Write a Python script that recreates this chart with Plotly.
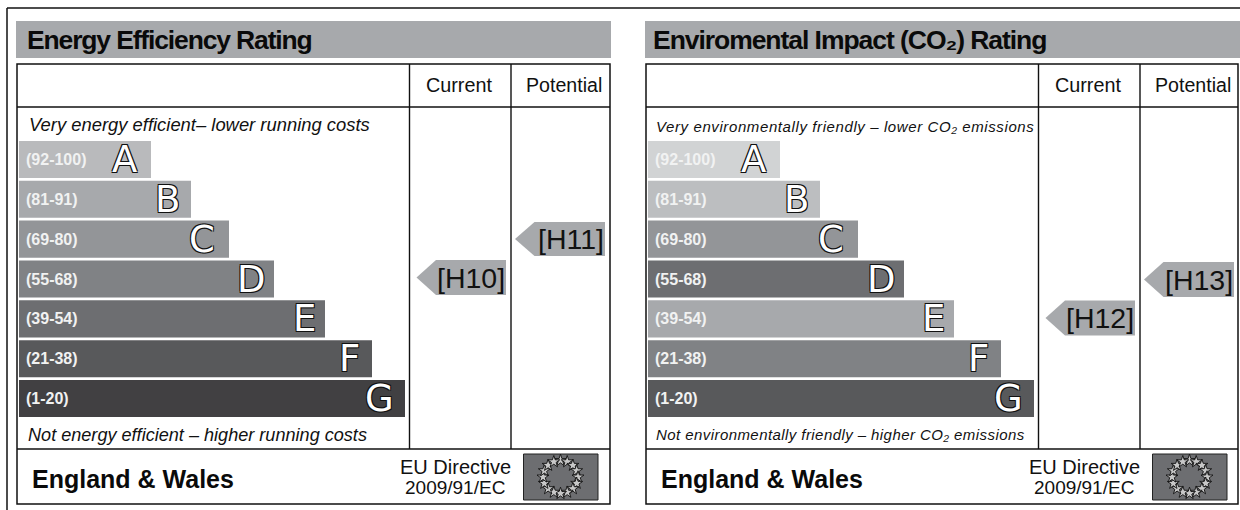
import json
import math
import plotly.graph_objects as go

# ---- data ----
bands = ["A", "B", "C", "D", "E", "F", "G"]
ranges = ["(92-100)", "(81-91)", "(69-80)", "(55-68)", "(39-54)", "(21-38)", "(1-20)"]
energy_lengths = [132, 172, 210, 255, 306, 353, 386]
co2_lengths = [132, 172, 210, 256, 306, 353, 386]
energy_colors = ["#b9babc", "#a7a9ac", "#939598", "#808285", "#6d6e71", "#58595b", "#414042"]
co2_colors = ["#d1d3d4", "#bcbec0", "#939598", "#6d6e71", "#a7a9ac", "#808285", "#58595b"]
letter_insets = [12, 9, 12, 6, 7, 10, 9]
header_labels = ["Current", "Potential"]

FONT = "Arial, 'Liberation Sans', Helvetica, sans-serif"
LETTER_FONT = "'DejaVu Sans', Verdana, sans-serif"
GREY = "#a7a9ac"
INK = "#111111"
W, H = 1240, 510

# letter-spacing per text, by how the text starts
TRACKING = {
    "Energy Efficiency": "-1.15px",
    "Enviromental": "-1.05px",
    "Very environmentally": "0.6px",
    "Not environmentally": "0.43px",
}

fig = go.Figure()
shapes, notes = [], []


def rect(x0, y0, x1, y1, fill="rgba(0,0,0,0)", line=None, width=0):
    shapes.append(dict(type="rect", xref="x", yref="y", x0=x0, y0=y0, x1=x1, y1=y1,
                       fillcolor=fill, layer="below",
                       line=dict(color=line or "rgba(0,0,0,0)", width=width)))


def seg(x0, y0, x1, y1, width=1.4):
    shapes.append(dict(type="line", xref="x", yref="y", x0=x0, y0=y0, x1=x1, y1=y1,
                       layer="below", line=dict(color=INK, width=width)))


def note(x, y, text, size, anchor="left", color=INK, bold=False, italic=False):
    if bold:
        text = f"<b>{text}</b>"
    if italic:
        text = f"<i>{text}</i>"
    notes.append(dict(xref="x", yref="y", x=x, y=y, text=text, showarrow=False,
                      xanchor=anchor, yanchor="middle",
                      font=dict(family=FONT, size=size, color=color),
                      align="center" if anchor == "center" else anchor))


def pointer(tip, right, y0, y1, label):
    mid = (y0 + y1) / 2
    sh = tip + 19.5
    shapes.append(dict(type="path", xref="x", yref="y", layer="below", fillcolor=GREY,
                       line=dict(width=0),
                       path=f"M{tip},{mid} L{sh},{y0} L{right},{y0} L{right},{y1} L{sh},{y1} Z"))
    note(right + 1, mid, label, 28.5, anchor="right")


def flag(x0):
    rect(x0, 454, x0 + 74.5, 500, fill="#6d6e71", line="#222222", width=1)
    cx, cy = x0 + 37, 477
    xs, ys = [], []
    for i in range(16):
        a = 2 * math.pi * i / 16 - math.pi / 2
        xs.append(cx + 17.5 * math.cos(a))
        ys.append(cy + 16.5 * math.sin(a))
    fig.add_trace(go.Scatter(x=xs, y=ys, mode="markers", xaxis="x", yaxis="y", showlegend=False,
                             hoverinfo="skip",
                             marker=dict(symbol="star", size=9, color="#c8c8c8",
                                         line=dict(color="#111111", width=0.9))))


def panel(left, tleft, tright, v1, v2, title, title_x, top_note, top_x, top_y, bottom_note, bottom_x,
          bottom_y, top_size, bottom_size, lengths, colors, xa, ya, hdr0, hdr1):
    rect(hdr0, 21, hdr1, 58, fill=GREY)
    note(title_x, 39.5, title, 26.5, bold=True, color="#0a0a0a")
    rect(tleft, 64, tright, 504, line=INK, width=1.5)
    seg(tleft, 107, tright, 107)
    seg(tleft, 449, tright, 449)
    seg(v1, 64, v1, 449)
    seg(v2, 64, v2, 449)
    note(v1 + 49, 85, header_labels[0], 19.8, anchor="center")
    note(v2 + 53, 85, header_labels[1], 19.6, anchor="center")
    note(top_x, top_y, top_note, top_size, italic=True)
    note(bottom_x, bottom_y, bottom_note, bottom_size, italic=True)
    note(left + 10.5, 478.5, "England &amp; Wales", 25, bold=True, color="#0a0a0a")
    note(v2 - 55.5, 466.5, "EU Directive", 20, anchor="center")
    note(v2 - 56, 487, "2009/91/EC", 19, anchor="center")
    flag(v2 + 12.5)
    fig.add_trace(go.Bar(
        y=bands, x=lengths, orientation="h", xaxis=xa, yaxis=ya, showlegend=False,
        marker=dict(color=colors, line=dict(width=0)), hoverinfo="skip"))
    outline = "1px 1px 0 #111,-1px 1px 0 #111,1px -1px 0 #111,-1px -1px 0 #111"
    for b, r, l, inset in zip(bands, ranges, lengths, letter_insets):
        notes.append(dict(xref=xa, yref=ya, x=5, y=b, text=f"<b>{r}</b>", showarrow=False,
                          xanchor="left", yanchor="middle",
                          font=dict(family=FONT, size=16, color="#f1f2f2")))
        notes.append(dict(xref=xa, yref=ya, x=l - inset, y=b, text=b, showarrow=False,
                          xanchor="right", yanchor="middle",
                          font=dict(family=LETTER_FONT, size=37, color="#ffffff", shadow=outline)))


# outer frame of the page
seg(7, 8, W, 8, 1.5)
seg(7, 8, 7, H, 1.5)

panel(19, 17, 610, 409.5, 511, "Energy Efficiency Rating", 24.5,
      "Very energy efficient\u2013 lower running costs", 27, 124,
      "Not energy efficient \u2013 higher running costs", 26, 435, 18.4, 18.1,
      energy_lengths, energy_colors, "x2", "y2", 16, 611)
panel(648, 646, 1238, 1038.5, 1140, "Enviromental Impact (CO\u2082) Rating", 651,
      "Very environmentally friendly \u2013 lower CO\u2082 emissions", 654, 126.5,
      "Not environmentally friendly \u2013 higher CO\u2082 emissions", 654, 434, 15, 15,
      co2_lengths, co2_colors, "x3", "y3", 645, 1240)

pointer(416.5, 506, 260, 295, "[H10]")
pointer(515, 605, 222, 256, "[H11]")
pointer(1045.5, 1135, 300.5, 335.5, "[H12]")
pointer(1144, 1234, 262, 297, "[H13]")

band_top, band_bottom = 139.5, 418.5
ydom = [1 - band_bottom / H, 1 - band_top / H]


def hidden(**kw):
    return dict(visible=False, fixedrange=True, **kw)


fig.update_layout(
    width=W, height=H, margin=dict(l=0, r=0, t=0, b=0, autoexpand=False),
    paper_bgcolor="white", plot_bgcolor="rgba(0,0,0,0)",
    bargap=0.07, barmode="overlay",
    xaxis=hidden(domain=[0, 1], range=[0, W]),
    yaxis=hidden(domain=[0, 1], range=[H, 0]),
    xaxis2=hidden(domain=[19 / W, 419 / W], range=[0, 400], anchor="y2"),
    yaxis2=hidden(domain=ydom, type="category", categoryorder="array", categoryarray=bands,
                  range=[6.5, -0.5], anchor="x2"),
    xaxis3=hidden(domain=[648 / W, 1048 / W], range=[0, 400], anchor="y3"),
    yaxis3=hidden(domain=ydom, type="category", categoryorder="array", categoryarray=bands,
                  range=[6.5, -0.5], anchor="x3"),
    shapes=shapes, annotations=notes, showlegend=False,
)

post = "document.body.style.margin='0';var T=" + json.dumps(TRACKING) + ";" \
    "document.querySelectorAll('.annotation-text').forEach(function(t){" \
    "for(var k in T){if(t.textContent.indexOf(k)===0){t.style.letterSpacing=T[k];}}});"

fig.write_html("out.html", config={"displayModeBar": False}, post_script=post)
